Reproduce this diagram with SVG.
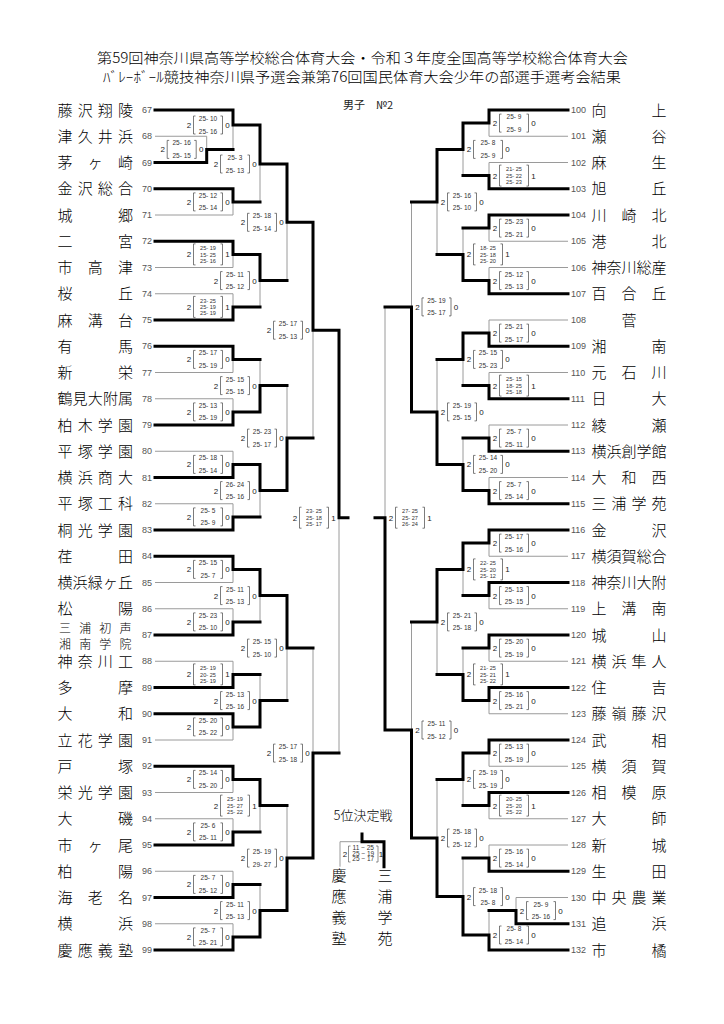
<svg xmlns="http://www.w3.org/2000/svg" width="724" height="1024" viewBox="0 0 724 1024">
<style>
.nm{font-family:"Noto Sans CJK JP","Noto Sans CJK SC",sans-serif;font-size:15px;font-weight:300;fill:#000;text-anchor:middle}
.nm2{font-size:12px}
.nl{font-family:"Liberation Sans",sans-serif;font-size:9px;fill:#555;text-anchor:end}
.nr{font-family:"Liberation Sans",sans-serif;font-size:9px;fill:#555;text-anchor:start}
.w{font-family:"Liberation Sans",sans-serif;font-size:8px;fill:#222;text-anchor:middle}
.s{font-family:"Liberation Sans",sans-serif;font-size:6.5px;fill:#333;text-anchor:middle}
.s3{font-size:5.6px}
.tk{fill:none;stroke:#000;stroke-width:3;stroke-linecap:square}
.tn{fill:none;stroke:#9a9a9a;stroke-width:1}
.tt{font-family:"Noto Sans CJK JP",sans-serif;font-size:14px;font-weight:300;fill:#000;text-anchor:middle}
</style>
<defs>
<path id="l2" d="M6.5,-9H4.5V9H6.5" fill="none" stroke="#444" stroke-width="0.7"/>
<path id="r2" d="M31.5,-9H33.5V9H31.5" fill="none" stroke="#444" stroke-width="0.7"/>
<path id="l3" d="M6.5,-10.5H4.5V10.5H6.5" fill="none" stroke="#444" stroke-width="0.7"/>
<path id="r3" d="M31.5,-10.5H33.5V10.5H31.5" fill="none" stroke="#444" stroke-width="0.7"/>
</defs>
<rect width="724" height="1024" fill="#fff"/>

<g id="title">
<text class="tt" x="362.5" y="63" textLength="531" lengthAdjust="spacingAndGlyphs">第59回神奈川県高等学校総合体育大会・令和３年度全国高等学校総合体育大会</text>
<text class="tt" x="362" y="82" textLength="518" lengthAdjust="spacingAndGlyphs">ﾊﾞﾚｰﾎﾞｰﾙ競技神奈川県予選会兼第76回国民体育大会少年の部選手選考会結果</text>
<text x="343" y="109" font-family="Noto Sans CJK JP,sans-serif" font-size="11" fill="#222">男子　№2</text>
</g>

<g id="connectors">
<path class="tn" d="M155,136.25H206.7 M155,215H233 M155,267.5H233 M155,293.75H233 M155,372.5H233 M155,398.75H233 M155,451.25H233 M155,503.75H233 M155,582.5H233 M155,608.75H233 M155,661.25H233 M155,740H233 M155,792.5H233 M155,818.75H233 M155,871.25H233 M155,923.75H233
M206.7,136.25V149.4 M233,125V149.4 M233,201.9V215 M260,164V201.9 M233,254.4V267.5 M233,293.75V306.9 M260,280.6V306.9 M287,222.3V280.6 M233,359.4V372.5 M233,398.75V411.9 M260,359.4V385.6 M233,451.25V464.4 M233,503.75V516.9 M260,490.6V516.9 M287,385.6V438.1 M313,330.2V438.1 M233,569.4V582.5 M233,608.75V621.9 M260,595.6V621.9 M233,661.25V674.4 M233,726.9V740 M260,674.4V700.6 M287,648.1V700.6 M233,779.4V792.5 M233,818.75V831.9 M260,805.6V831.9 M233,871.25V884.4 M233,923.75V936.9 M260,884.4V910.6 M287,805.6V858.1 M313,648.1V753.1 M339,517.7V753.1
M489,136.25H568 M489,162.5H568 M489,241.25H568 M489,267.5H568 M489,320H568 M489,372.5H568 M489,425H568 M489,477.5H568 M489,556.25H568 M489,608.75H568 M489,661.25H568 M489,713.75H568 M489,766.25H568 M489,818.75H568 M489,845H568 M516,897.5H568
M489,123.1V136.25 M489,162.5V175.6 M463,149.4V175.6 M489,228.1V241.25 M489,267.5V280.6 M463,228.1V254.4 M437,201.9V254.4 M489,320V333.1 M489,372.5V385.6 M463,359.4V385.6 M489,425V438.1 M489,477.5V490.6 M463,438.1V464.4 M437,359.4V411.9 M411.5,201.9V306.9 M489,543.1V556.25 M489,595.6V608.75 M463,569.4V595.6 M489,648.1V661.25 M489,700.6V713.75 M463,648.1V674.4 M437,621.9V674.4 M489,753.1V766.25 M489,805.6V818.75 M463,779.4V805.6 M489,845V858.1 M516,897.5V910.6 M489,910.6V935 M463,858.1V896.6 M437,779.4V838 M411.5,621.9V730 M385,306.9V517.7
M340,866.7V841.7H362"/>
<path class="tk" d="M155,110H233 M155,162.5H206.7 M155,188.75H233 M155,241.25H233 M155,320H233 M155,346.25H233 M155,425H233 M155,477.5H233 M155,530H233 M155,556.25H233 M155,635H233 M155,687.5H233 M155,713.75H233 M155,766.25H233 M155,845H233 M155,897.5H233 M155,950H233
M206.7,162.5V149.4H233 M233,110V125H260 M233,188.75V201.9H260 M260,125V164H287 M233,241.25V254.4H260 M233,320V306.9H260 M260,254.4V280.6H287 M287,164V222.3H313 M233,346.25V359.4H260 M233,425V411.9H260 M260,411.9V385.6H287 M233,477.5V464.4H260 M233,530V516.9H260 M260,464.4V490.6H287 M287,490.6V438.1H313 M313,222.3V330.2H339 M233,556.25V569.4H260 M233,635V621.9H260 M260,569.4V595.6H287 M233,687.5V674.4H260 M233,713.75V726.9H260 M260,726.9V700.6H287 M287,595.6V648.1H313 M233,766.25V779.4H260 M233,845V831.9H260 M260,779.4V805.6H287 M233,897.5V884.4H260 M233,950V936.9H260 M260,936.9V910.6H287 M287,910.6V858.1H313 M313,858.1V753.1H339 M339,330.2V517.7H348
M489,110H568 M489,188.75H568 M489,215H568 M489,293.75H568 M489,346.25H568 M489,398.75H568 M489,451.25H568 M489,503.75H568 M489,530H568 M489,582.5H568 M489,635H568 M489,687.5H568 M489,740H568 M489,792.5H568 M489,871.25H568 M516,923.75H568 M489,950H568
M489,110V123.1H463 M489,188.75V175.6H463 M463,123.1V149.4H437 M489,215V228.1H463 M489,293.75V280.6H463 M463,280.6V254.4H437 M437,149.4V201.9H411.5 M489,346.25V333.1H463 M489,398.75V385.6H463 M463,333.1V359.4H437 M489,451.25V438.1H463 M489,503.75V490.6H463 M463,490.6V464.4H437 M437,464.4V411.9H411.5 M411.5,411.9V306.9H385 M489,530V543.1H463 M489,582.5V595.6H463 M463,543.1V569.4H437 M489,635V648.1H463 M489,687.5V700.6H463 M463,700.6V674.4H437 M437,569.4V621.9H411.5 M489,740V753.1H463 M489,792.5V805.6H463 M463,753.1V779.4H437 M489,871.25V858.1H463 M516,923.75V910.6H489 M489,950V935H463 M463,935V896.6H437 M437,896.6V838H411.5 M411.5,838V730H385 M385,730V517.7H375
M362,834V841.7H384V866.7"/>
</g>

<g id="left-teams">
<g id="t67"><text class="nm" x="65 85.2 105.3 125.5" y="115.5">藤沢翔陵</text><text class="nl" x="152" y="113">67</text></g>
<g id="t68"><text class="nm" x="65 85.2 105.3 125.5" y="141.75">津久井浜</text><text class="nl" x="152" y="139.25">68</text></g>
<g id="t69"><text class="nm" x="65 95.25 125.5" y="168">茅ヶ崎</text><text class="nl" x="152" y="165.5">69</text></g>
<g id="t70"><text class="nm" x="65 85.2 105.3 125.5" y="194.25">金沢総合</text><text class="nl" x="152" y="191.75">70</text></g>
<g id="t71"><text class="nm" x="65 125.5" y="220.5">城郷</text><text class="nl" x="152" y="218">71</text></g>
<g id="t72"><text class="nm" x="65 125.5" y="246.75">二宮</text><text class="nl" x="152" y="244.25">72</text></g>
<g id="t73"><text class="nm" x="65 95.25 125.5" y="273">市高津</text><text class="nl" x="152" y="270.5">73</text></g>
<g id="t74"><text class="nm" x="65 125.5" y="299.25">桜丘</text><text class="nl" x="152" y="296.75">74</text></g>
<g id="t75"><text class="nm" x="65 95.25 125.5" y="325.5">麻溝台</text><text class="nl" x="152" y="323">75</text></g>
<g id="t76"><text class="nm" x="65 125.5" y="351.75">有馬</text><text class="nl" x="152" y="349.25">76</text></g>
<g id="t77"><text class="nm" x="65 125.5" y="378">新栄</text><text class="nl" x="152" y="375.5">77</text></g>
<g id="t78"><text class="nm" x="65 80.1 95.25 110.4 125.5" y="404.25">鶴見大附属</text><text class="nl" x="152" y="401.75">78</text></g>
<g id="t79"><text class="nm" x="65 85.2 105.3 125.5" y="430.5">柏木学園</text><text class="nl" x="152" y="428">79</text></g>
<g id="t80"><text class="nm" x="65 85.2 105.3 125.5" y="456.75">平塚学園</text><text class="nl" x="152" y="454.25">80</text></g>
<g id="t81"><text class="nm" x="65 85.2 105.3 125.5" y="483">横浜商大</text><text class="nl" x="152" y="480.5">81</text></g>
<g id="t82"><text class="nm" x="65 85.2 105.3 125.5" y="509.25">平塚工科</text><text class="nl" x="152" y="506.75">82</text></g>
<g id="t83"><text class="nm" x="65 85.2 105.3 125.5" y="535.5">桐光学園</text><text class="nl" x="152" y="533">83</text></g>
<g id="t84"><text class="nm" x="65 125.5" y="561.75">荏田</text><text class="nl" x="152" y="559.25">84</text></g>
<g id="t85"><text class="nm" x="65 80.1 95.25 110.4 125.5" y="588">横浜緑ヶ丘</text><text class="nl" x="152" y="585.5">85</text></g>
<g id="t86"><text class="nm" x="65 125.5" y="614.25">松陽</text><text class="nl" x="152" y="611.75">86</text></g>
<g id="t87"><text class="nm nm2" x="65 85.2 105.3 125.5" y="633">三浦初声</text><text class="nm nm2" x="65 85.2 105.3 125.5" y="648.5">湘南学院</text><text class="nl" x="152" y="638">87</text></g>
<g id="t88"><text class="nm" x="65 85.2 105.3 125.5" y="666.75">神奈川工</text><text class="nl" x="152" y="664.25">88</text></g>
<g id="t89"><text class="nm" x="65 125.5" y="693">多摩</text><text class="nl" x="152" y="690.5">89</text></g>
<g id="t90"><text class="nm" x="65 125.5" y="719.25">大和</text><text class="nl" x="152" y="716.75">90</text></g>
<g id="t91"><text class="nm" x="65 85.2 105.3 125.5" y="745.5">立花学園</text><text class="nl" x="152" y="743">91</text></g>
<g id="t92"><text class="nm" x="65 125.5" y="771.75">戸塚</text><text class="nl" x="152" y="769.25">92</text></g>
<g id="t93"><text class="nm" x="65 85.2 105.3 125.5" y="798">栄光学園</text><text class="nl" x="152" y="795.5">93</text></g>
<g id="t94"><text class="nm" x="65 125.5" y="824.25">大磯</text><text class="nl" x="152" y="821.75">94</text></g>
<g id="t95"><text class="nm" x="65 95.25 125.5" y="850.5">市ヶ尾</text><text class="nl" x="152" y="848">95</text></g>
<g id="t96"><text class="nm" x="65 125.5" y="876.75">柏陽</text><text class="nl" x="152" y="874.25">96</text></g>
<g id="t97"><text class="nm" x="65 95.25 125.5" y="903">海老名</text><text class="nl" x="152" y="900.5">97</text></g>
<g id="t98"><text class="nm" x="65 125.5" y="929.25">横浜</text><text class="nl" x="152" y="926.75">98</text></g>
<g id="t99"><text class="nm" x="65 85.2 105.3 125.5" y="955.5">慶應義塾</text><text class="nl" x="152" y="953">99</text></g>
</g>

<g id="right-teams">
<g id="t100"><text class="nr" x="571" y="113">100</text><text class="nm" x="599 659" y="115.5">向上</text></g>
<g id="t101"><text class="nr" x="571" y="139.25">101</text><text class="nm" x="599 659" y="141.75">瀬谷</text></g>
<g id="t102"><text class="nr" x="571" y="165.5">102</text><text class="nm" x="599 659" y="168">麻生</text></g>
<g id="t103"><text class="nr" x="571" y="191.75">103</text><text class="nm" x="599 659" y="194.25">旭丘</text></g>
<g id="t104"><text class="nr" x="571" y="218">104</text><text class="nm" x="599 629 659" y="220.5">川崎北</text></g>
<g id="t105"><text class="nr" x="571" y="244.25">105</text><text class="nm" x="599 659" y="246.75">港北</text></g>
<g id="t106"><text class="nr" x="571" y="270.5">106</text><text class="nm" x="599 614 629 644 659" y="273">神奈川総産</text></g>
<g id="t107"><text class="nr" x="571" y="296.75">107</text><text class="nm" x="599 629 659" y="299.25">百合丘</text></g>
<g id="t108"><text class="nr" x="571" y="323">108</text><text class="nm" x="629" y="325.5">菅</text></g>
<g id="t109"><text class="nr" x="571" y="349.25">109</text><text class="nm" x="599 659" y="351.75">湘南</text></g>
<g id="t110"><text class="nr" x="571" y="375.5">110</text><text class="nm" x="599 629 659" y="378">元石川</text></g>
<g id="t111"><text class="nr" x="571" y="401.75">111</text><text class="nm" x="599 659" y="404.25">日大</text></g>
<g id="t112"><text class="nr" x="571" y="428">112</text><text class="nm" x="599 659" y="430.5">綾瀬</text></g>
<g id="t113"><text class="nr" x="571" y="454.25">113</text><text class="nm" x="599 614 629 644 659" y="456.75">横浜創学館</text></g>
<g id="t114"><text class="nr" x="571" y="480.5">114</text><text class="nm" x="599 629 659" y="483">大和西</text></g>
<g id="t115"><text class="nr" x="571" y="506.75">115</text><text class="nm" x="599 619 639 659" y="509.25">三浦学苑</text></g>
<g id="t116"><text class="nr" x="571" y="533">116</text><text class="nm" x="599 659" y="535.5">金沢</text></g>
<g id="t117"><text class="nr" x="571" y="559.25">117</text><text class="nm" x="599 614 629 644 659" y="561.75">横須賀総合</text></g>
<g id="t118"><text class="nr" x="571" y="585.5">118</text><text class="nm" x="599 614 629 644 659" y="588">神奈川大附</text></g>
<g id="t119"><text class="nr" x="571" y="611.75">119</text><text class="nm" x="599 629 659" y="614.25">上溝南</text></g>
<g id="t120"><text class="nr" x="571" y="638">120</text><text class="nm" x="599 659" y="640.5">城山</text></g>
<g id="t121"><text class="nr" x="571" y="664.25">121</text><text class="nm" x="599 619 639 659" y="666.75">横浜隼人</text></g>
<g id="t122"><text class="nr" x="571" y="690.5">122</text><text class="nm" x="599 659" y="693">住吉</text></g>
<g id="t123"><text class="nr" x="571" y="716.75">123</text><text class="nm" x="599 619 639 659" y="719.25">藤嶺藤沢</text></g>
<g id="t124"><text class="nr" x="571" y="743">124</text><text class="nm" x="599 659" y="745.5">武相</text></g>
<g id="t125"><text class="nr" x="571" y="769.25">125</text><text class="nm" x="599 629 659" y="771.75">横須賀</text></g>
<g id="t126"><text class="nr" x="571" y="795.5">126</text><text class="nm" x="599 629 659" y="798">相模原</text></g>
<g id="t127"><text class="nr" x="571" y="821.75">127</text><text class="nm" x="599 659" y="824.25">大師</text></g>
<g id="t128"><text class="nr" x="571" y="848">128</text><text class="nm" x="599 659" y="850.5">新城</text></g>
<g id="t129"><text class="nr" x="571" y="874.25">129</text><text class="nm" x="599 659" y="876.75">生田</text></g>
<g id="t130"><text class="nr" x="571" y="900.5">130</text><text class="nm" x="599 619 639 659" y="903">中央農業</text></g>
<g id="t131"><text class="nr" x="571" y="926.75">131</text><text class="nm" x="599 659" y="929.25">追浜</text></g>
<g id="t132"><text class="nr" x="571" y="953">132</text><text class="nm" x="599 659" y="955.5">市橘</text></g>
</g>

<g id="scores">
<g transform="translate(162.7,149.4)"><text class="w" y="3">2</text><use href="#l2"/><text class="s" x="19" y="-4">25- 16</text><text class="s" x="19" y="8.6">25- 15</text><use href="#r2"/><text class="w" x="38.5" y="3">0</text></g>
<g transform="translate(189,125)"><text class="w" y="3">2</text><use href="#l2"/><text class="s" x="19" y="-4">25- 10</text><text class="s" x="19" y="8.6">25- 16</text><use href="#r2"/><text class="w" x="38.5" y="3">0</text></g>
<g transform="translate(189,201.9)"><text class="w" y="3">2</text><use href="#l2"/><text class="s" x="19" y="-4">25- 12</text><text class="s" x="19" y="8.6">25- 14</text><use href="#r2"/><text class="w" x="38.5" y="3">0</text></g>
<g transform="translate(216,164)"><text class="w" y="3">2</text><use href="#l2"/><text class="s" x="19" y="-4">25- 3</text><text class="s" x="19" y="8.6">25- 13</text><use href="#r2"/><text class="w" x="38.5" y="3">0</text></g>
<g transform="translate(189,254.4)"><text class="w" y="3">2</text><use href="#l3"/><text class="s s3" x="19" y="-4.4">25- 19</text><text class="s s3" x="19" y="2.1">15- 25</text><text class="s s3" x="19" y="8.6">25- 16</text><use href="#r3"/><text class="w" x="38.5" y="3">1</text></g>
<g transform="translate(189,306.9)"><text class="w" y="3">2</text><use href="#l3"/><text class="s s3" x="19" y="-4.4">23- 25</text><text class="s s3" x="19" y="2.1">25- 19</text><text class="s s3" x="19" y="8.6">25- 19</text><use href="#r3"/><text class="w" x="38.5" y="3">1</text></g>
<g transform="translate(216,280.6)"><text class="w" y="3">2</text><use href="#l2"/><text class="s" x="19" y="-4">25- 11</text><text class="s" x="19" y="8.6">25- 12</text><use href="#r2"/><text class="w" x="38.5" y="3">0</text></g>
<g transform="translate(243,222.3)"><text class="w" y="3">2</text><use href="#l2"/><text class="s" x="19" y="-4">25- 18</text><text class="s" x="19" y="8.6">25- 14</text><use href="#r2"/><text class="w" x="38.5" y="3">0</text></g>
<g transform="translate(189,359.4)"><text class="w" y="3">2</text><use href="#l2"/><text class="s" x="19" y="-4">25- 17</text><text class="s" x="19" y="8.6">25- 19</text><use href="#r2"/><text class="w" x="38.5" y="3">0</text></g>
<g transform="translate(189,411.9)"><text class="w" y="3">2</text><use href="#l2"/><text class="s" x="19" y="-4">25- 13</text><text class="s" x="19" y="8.6">25- 19</text><use href="#r2"/><text class="w" x="38.5" y="3">0</text></g>
<g transform="translate(216,385.6)"><text class="w" y="3">2</text><use href="#l2"/><text class="s" x="19" y="-4">25- 15</text><text class="s" x="19" y="8.6">25- 15</text><use href="#r2"/><text class="w" x="38.5" y="3">0</text></g>
<g transform="translate(189,464.4)"><text class="w" y="3">2</text><use href="#l2"/><text class="s" x="19" y="-4">25- 18</text><text class="s" x="19" y="8.6">25- 14</text><use href="#r2"/><text class="w" x="38.5" y="3">0</text></g>
<g transform="translate(189,516.9)"><text class="w" y="3">2</text><use href="#l2"/><text class="s" x="19" y="-4">25- 5</text><text class="s" x="19" y="8.6">25- 9</text><use href="#r2"/><text class="w" x="38.5" y="3">0</text></g>
<g transform="translate(216,490.6)"><text class="w" y="3">2</text><use href="#l2"/><text class="s" x="19" y="-4">26- 24</text><text class="s" x="19" y="8.6">25- 16</text><use href="#r2"/><text class="w" x="38.5" y="3">0</text></g>
<g transform="translate(243,438.1)"><text class="w" y="3">2</text><use href="#l2"/><text class="s" x="19" y="-4">25- 23</text><text class="s" x="19" y="8.6">25- 17</text><use href="#r2"/><text class="w" x="38.5" y="3">0</text></g>
<g transform="translate(269,330.2)"><text class="w" y="3">2</text><use href="#l2"/><text class="s" x="19" y="-4">25- 17</text><text class="s" x="19" y="8.6">25- 13</text><use href="#r2"/><text class="w" x="38.5" y="3">0</text></g>
<g transform="translate(189,569.4)"><text class="w" y="3">2</text><use href="#l2"/><text class="s" x="19" y="-4">25- 15</text><text class="s" x="19" y="8.6">25- 7</text><use href="#r2"/><text class="w" x="38.5" y="3">0</text></g>
<g transform="translate(189,621.9)"><text class="w" y="3">2</text><use href="#l2"/><text class="s" x="19" y="-4">25- 23</text><text class="s" x="19" y="8.6">25- 10</text><use href="#r2"/><text class="w" x="38.5" y="3">0</text></g>
<g transform="translate(216,595.6)"><text class="w" y="3">2</text><use href="#l2"/><text class="s" x="19" y="-4">25- 11</text><text class="s" x="19" y="8.6">25- 13</text><use href="#r2"/><text class="w" x="38.5" y="3">0</text></g>
<g transform="translate(189,674.4)"><text class="w" y="3">2</text><use href="#l3"/><text class="s s3" x="19" y="-4.4">25- 19</text><text class="s s3" x="19" y="2.1">20- 25</text><text class="s s3" x="19" y="8.6">25- 19</text><use href="#r3"/><text class="w" x="38.5" y="3">1</text></g>
<g transform="translate(189,726.9)"><text class="w" y="3">2</text><use href="#l2"/><text class="s" x="19" y="-4">25- 20</text><text class="s" x="19" y="8.6">25- 22</text><use href="#r2"/><text class="w" x="38.5" y="3">0</text></g>
<g transform="translate(216,700.6)"><text class="w" y="3">2</text><use href="#l2"/><text class="s" x="19" y="-4">25- 13</text><text class="s" x="19" y="8.6">25- 16</text><use href="#r2"/><text class="w" x="38.5" y="3">0</text></g>
<g transform="translate(243,648.1)"><text class="w" y="3">2</text><use href="#l2"/><text class="s" x="19" y="-4">25- 15</text><text class="s" x="19" y="8.6">25- 10</text><use href="#r2"/><text class="w" x="38.5" y="3">0</text></g>
<g transform="translate(189,779.4)"><text class="w" y="3">2</text><use href="#l2"/><text class="s" x="19" y="-4">25- 14</text><text class="s" x="19" y="8.6">25- 20</text><use href="#r2"/><text class="w" x="38.5" y="3">0</text></g>
<g transform="translate(189,831.9)"><text class="w" y="3">2</text><use href="#l2"/><text class="s" x="19" y="-4">25- 6</text><text class="s" x="19" y="8.6">25- 11</text><use href="#r2"/><text class="w" x="38.5" y="3">0</text></g>
<g transform="translate(216,805.6)"><text class="w" y="3">2</text><use href="#l3"/><text class="s s3" x="19" y="-4.4">25- 19</text><text class="s s3" x="19" y="2.1">25- 27</text><text class="s s3" x="19" y="8.6">25- 22</text><use href="#r3"/><text class="w" x="38.5" y="3">1</text></g>
<g transform="translate(189,884.4)"><text class="w" y="3">2</text><use href="#l2"/><text class="s" x="19" y="-4">25- 7</text><text class="s" x="19" y="8.6">25- 12</text><use href="#r2"/><text class="w" x="38.5" y="3">0</text></g>
<g transform="translate(189,936.9)"><text class="w" y="3">2</text><use href="#l2"/><text class="s" x="19" y="-4">25- 7</text><text class="s" x="19" y="8.6">25- 21</text><use href="#r2"/><text class="w" x="38.5" y="3">0</text></g>
<g transform="translate(216,910.6)"><text class="w" y="3">2</text><use href="#l2"/><text class="s" x="19" y="-4">25- 11</text><text class="s" x="19" y="8.6">25- 13</text><use href="#r2"/><text class="w" x="38.5" y="3">0</text></g>
<g transform="translate(243,858.1)"><text class="w" y="3">2</text><use href="#l2"/><text class="s" x="19" y="-4">25- 19</text><text class="s" x="19" y="8.6">29- 27</text><use href="#r2"/><text class="w" x="38.5" y="3">0</text></g>
<g transform="translate(269,753.1)"><text class="w" y="3">2</text><use href="#l2"/><text class="s" x="19" y="-4">25- 17</text><text class="s" x="19" y="8.6">25- 18</text><use href="#r2"/><text class="w" x="38.5" y="3">0</text></g>
<g transform="translate(295,517.7)"><text class="w" y="3">2</text><use href="#l3"/><text class="s s3" x="19" y="-4.4">23- 25</text><text class="s s3" x="19" y="2.1">25- 18</text><text class="s s3" x="19" y="8.6">25- 17</text><use href="#r3"/><text class="w" x="38.5" y="3">1</text></g>

<g transform="translate(495,123.1)"><text class="w" y="3">2</text><use href="#l2"/><text class="s" x="19" y="-4">25- 9</text><text class="s" x="19" y="8.6">25- 9</text><use href="#r2"/><text class="w" x="38.5" y="3">0</text></g>
<g transform="translate(495,175.6)"><text class="w" y="3">2</text><use href="#l3"/><text class="s s3" x="19" y="-4.4">21- 25</text><text class="s s3" x="19" y="2.1">25- 22</text><text class="s s3" x="19" y="8.6">25- 23</text><use href="#r3"/><text class="w" x="38.5" y="3">1</text></g>
<g transform="translate(469,149.4)"><text class="w" y="3">2</text><use href="#l2"/><text class="s" x="19" y="-4">25- 8</text><text class="s" x="19" y="8.6">25- 9</text><use href="#r2"/><text class="w" x="38.5" y="3">0</text></g>
<g transform="translate(495,228.1)"><text class="w" y="3">2</text><use href="#l2"/><text class="s" x="19" y="-4">25- 23</text><text class="s" x="19" y="8.6">25- 21</text><use href="#r2"/><text class="w" x="38.5" y="3">0</text></g>
<g transform="translate(495,280.6)"><text class="w" y="3">2</text><use href="#l2"/><text class="s" x="19" y="-4">25- 12</text><text class="s" x="19" y="8.6">25- 13</text><use href="#r2"/><text class="w" x="38.5" y="3">0</text></g>
<g transform="translate(469,254.4)"><text class="w" y="3">2</text><use href="#l3"/><text class="s s3" x="19" y="-4.4">18- 25</text><text class="s s3" x="19" y="2.1">25- 18</text><text class="s s3" x="19" y="8.6">25- 20</text><use href="#r3"/><text class="w" x="38.5" y="3">1</text></g>
<g transform="translate(443,201.9)"><text class="w" y="3">2</text><use href="#l2"/><text class="s" x="19" y="-4">25- 16</text><text class="s" x="19" y="8.6">25- 10</text><use href="#r2"/><text class="w" x="38.5" y="3">0</text></g>
<g transform="translate(417.5,306.9)"><text class="w" y="3">2</text><use href="#l2"/><text class="s" x="19" y="-4">25- 19</text><text class="s" x="19" y="8.6">25- 17</text><use href="#r2"/><text class="w" x="38.5" y="3">0</text></g>
<g transform="translate(495,333.1)"><text class="w" y="3">2</text><use href="#l2"/><text class="s" x="19" y="-4">25- 21</text><text class="s" x="19" y="8.6">25- 17</text><use href="#r2"/><text class="w" x="38.5" y="3">0</text></g>
<g transform="translate(495,385.6)"><text class="w" y="3">2</text><use href="#l3"/><text class="s s3" x="19" y="-4.4">25- 15</text><text class="s s3" x="19" y="2.1">18- 25</text><text class="s s3" x="19" y="8.6">25- 18</text><use href="#r3"/><text class="w" x="38.5" y="3">1</text></g>
<g transform="translate(469,359.4)"><text class="w" y="3">2</text><use href="#l2"/><text class="s" x="19" y="-4">25- 15</text><text class="s" x="19" y="8.6">25- 23</text><use href="#r2"/><text class="w" x="38.5" y="3">0</text></g>
<g transform="translate(495,438.1)"><text class="w" y="3">2</text><use href="#l2"/><text class="s" x="19" y="-4">25- 7</text><text class="s" x="19" y="8.6">25- 11</text><use href="#r2"/><text class="w" x="38.5" y="3">0</text></g>
<g transform="translate(495,490.6)"><text class="w" y="3">2</text><use href="#l2"/><text class="s" x="19" y="-4">25- 7</text><text class="s" x="19" y="8.6">25- 14</text><use href="#r2"/><text class="w" x="38.5" y="3">0</text></g>
<g transform="translate(469,464.4)"><text class="w" y="3">2</text><use href="#l2"/><text class="s" x="19" y="-4">25- 14</text><text class="s" x="19" y="8.6">25- 20</text><use href="#r2"/><text class="w" x="38.5" y="3">0</text></g>
<g transform="translate(443,411.9)"><text class="w" y="3">2</text><use href="#l2"/><text class="s" x="19" y="-4">25- 19</text><text class="s" x="19" y="8.6">25- 15</text><use href="#r2"/><text class="w" x="38.5" y="3">0</text></g>
<g transform="translate(495,543.1)"><text class="w" y="3">2</text><use href="#l2"/><text class="s" x="19" y="-4">25- 17</text><text class="s" x="19" y="8.6">25- 16</text><use href="#r2"/><text class="w" x="38.5" y="3">0</text></g>
<g transform="translate(495,595.6)"><text class="w" y="3">2</text><use href="#l2"/><text class="s" x="19" y="-4">25- 13</text><text class="s" x="19" y="8.6">25- 15</text><use href="#r2"/><text class="w" x="38.5" y="3">0</text></g>
<g transform="translate(469,569.4)"><text class="w" y="3">2</text><use href="#l3"/><text class="s s3" x="19" y="-4.4">22- 25</text><text class="s s3" x="19" y="2.1">25- 20</text><text class="s s3" x="19" y="8.6">25- 12</text><use href="#r3"/><text class="w" x="38.5" y="3">1</text></g>
<g transform="translate(495,648.1)"><text class="w" y="3">2</text><use href="#l2"/><text class="s" x="19" y="-4">25- 20</text><text class="s" x="19" y="8.6">25- 19</text><use href="#r2"/><text class="w" x="38.5" y="3">0</text></g>
<g transform="translate(495,700.6)"><text class="w" y="3">2</text><use href="#l2"/><text class="s" x="19" y="-4">25- 16</text><text class="s" x="19" y="8.6">25- 21</text><use href="#r2"/><text class="w" x="38.5" y="3">0</text></g>
<g transform="translate(469,674.4)"><text class="w" y="3">2</text><use href="#l3"/><text class="s s3" x="19" y="-4.4">21- 25</text><text class="s s3" x="19" y="2.1">25- 21</text><text class="s s3" x="19" y="8.6">25- 22</text><use href="#r3"/><text class="w" x="38.5" y="3">1</text></g>
<g transform="translate(443,621.9)"><text class="w" y="3">2</text><use href="#l2"/><text class="s" x="19" y="-4">25- 21</text><text class="s" x="19" y="8.6">25- 18</text><use href="#r2"/><text class="w" x="38.5" y="3">0</text></g>
<g transform="translate(417.5,730)"><text class="w" y="3">2</text><use href="#l2"/><text class="s" x="19" y="-4">25- 11</text><text class="s" x="19" y="8.6">25- 12</text><use href="#r2"/><text class="w" x="38.5" y="3">0</text></g>
<g transform="translate(495,753.1)"><text class="w" y="3">2</text><use href="#l2"/><text class="s" x="19" y="-4">25- 13</text><text class="s" x="19" y="8.6">25- 19</text><use href="#r2"/><text class="w" x="38.5" y="3">0</text></g>
<g transform="translate(495,805.6)"><text class="w" y="3">2</text><use href="#l3"/><text class="s s3" x="19" y="-4.4">20- 25</text><text class="s s3" x="19" y="2.1">25- 20</text><text class="s s3" x="19" y="8.6">25- 22</text><use href="#r3"/><text class="w" x="38.5" y="3">1</text></g>
<g transform="translate(469,779.4)"><text class="w" y="3">2</text><use href="#l2"/><text class="s" x="19" y="-4">25- 19</text><text class="s" x="19" y="8.6">25- 19</text><use href="#r2"/><text class="w" x="38.5" y="3">0</text></g>
<g transform="translate(495,858.1)"><text class="w" y="3">2</text><use href="#l2"/><text class="s" x="19" y="-4">25- 16</text><text class="s" x="19" y="8.6">25- 14</text><use href="#r2"/><text class="w" x="38.5" y="3">0</text></g>
<g transform="translate(522,910.6)"><text class="w" y="3">2</text><use href="#l2"/><text class="s" x="19" y="-4">25- 9</text><text class="s" x="19" y="8.6">25- 16</text><use href="#r2"/><text class="w" x="38.5" y="3">0</text></g>
<g transform="translate(495,935)"><text class="w" y="3">2</text><use href="#l2"/><text class="s" x="19" y="-4">25- 8</text><text class="s" x="19" y="8.6">25- 14</text><use href="#r2"/><text class="w" x="38.5" y="3">0</text></g>
<g transform="translate(469,896.6)"><text class="w" y="3">2</text><use href="#l2"/><text class="s" x="19" y="-4">25- 18</text><text class="s" x="19" y="8.6">25- 8</text><use href="#r2"/><text class="w" x="38.5" y="3">0</text></g>
<g transform="translate(443,838)"><text class="w" y="3">2</text><use href="#l2"/><text class="s" x="19" y="-4">25- 18</text><text class="s" x="19" y="8.6">25- 12</text><use href="#r2"/><text class="w" x="38.5" y="3">0</text></g>
<g transform="translate(391,517.7)"><text class="w" y="3">2</text><use href="#l3"/><text class="s s3" x="19" y="-4.4">27- 25</text><text class="s s3" x="19" y="2.1">25- 27</text><text class="s s3" x="19" y="8.6">26- 24</text><use href="#r3"/><text class="w" x="38.5" y="3">1</text></g>
</g>

<g id="fifth-place">
<text x="363" y="820" font-family="Noto Sans CJK JP,sans-serif" font-size="13" font-weight="300" fill="#000" text-anchor="middle">5位決定戦</text>
<g transform="translate(345,854)"><text class="w" y="3" font-size="7">2</text><path d="M5.5,-8H3.5V8H5.5 M31,-8H33V8H31" fill="none" stroke="#444" stroke-width="0.6"/><text class="s" font-size="4.8" x="18.3" y="-3.8">11 − 25</text><text class="s" font-size="4.8" x="18.3" y="1.7">25 − 19</text><text class="s" font-size="4.8" x="18.3" y="7.2">25 − 17</text><text class="w" x="36" y="3" font-size="7">1</text></g>
<g id="t99b"><text class="nm" font-size="14" x="339 339 339 339" y="881 902 923 944">慶應義塾</text></g>
<g id="t115b"><text class="nm" font-size="14" x="385 385 385 385" y="881 902 923 944">三浦学苑</text></g>
</g>
</svg>
